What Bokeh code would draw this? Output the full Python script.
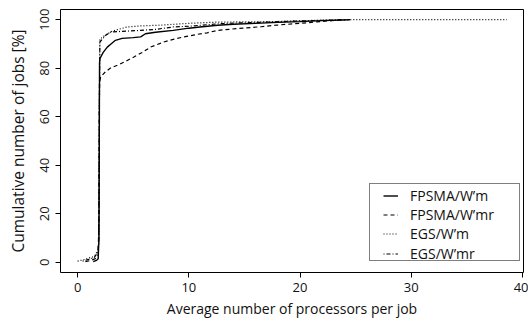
from bokeh.plotting import figure
from bokeh.models import Range1d, FixedTicker, Legend, LegendItem
from bokeh.embed import file_html
from bokeh.resources import INLINE

# ---- data ----
fpsma_m_x = [1.4, 1.7, 1.85, 1.92, 1.95, 1.97, 2.0, 2.3, 2.67, 3.0, 3.4, 4.0, 5.0, 5.67, 6.1, 7.0, 8.6, 10.0, 11.0, 12.6, 14.0, 16.0, 18.0, 20.0, 22.0, 24.5]
fpsma_m_y = [0.3, 0.8, 1.5, 10.0, 50.0, 82.0, 83.9, 86.5, 88.7, 90.0, 91.5, 92.3, 92.6, 92.9, 94.2, 94.8, 95.6, 96.5, 97.0, 97.7, 98.1, 98.5, 98.9, 99.2, 99.6, 100.0]

fpsma_mr_x = [0.7, 1.2, 1.6, 1.85, 1.92, 1.95, 1.97, 2.07, 2.5, 3.0, 3.57, 4.3, 5.06, 5.8, 6.56, 7.76, 8.6, 9.56, 10.8, 11.66, 12.6, 14.5, 16.5, 18.0, 20.0, 22.0, 24.0]
fpsma_mr_y = [0.3, 0.8, 1.5, 3.0, 20.0, 60.0, 74.0, 76.4, 78.5, 80.2, 81.2, 82.8, 84.6, 86.5, 88.7, 90.8, 91.9, 92.9, 94.0, 94.6, 95.6, 96.4, 97.1, 97.8, 98.5, 99.3, 100.0]

egs_m_x = [0.0, 0.5, 1.0, 1.35, 1.6, 1.8, 1.9, 1.95, 2.0, 2.3, 2.6, 3.0, 3.5, 4.47, 5.5, 7.2, 10.0, 12.6, 17.5, 20.0, 24.5, 38.6]
egs_m_y = [0.5, 1.0, 1.8, 2.2, 3.0, 5.0, 8.0, 60.0, 92.0, 93.0, 94.0, 95.0, 95.8, 97.0, 97.4, 97.7, 98.5, 99.0, 99.2, 99.6, 100.0, 100.0]

egs_mr_x = [0.45, 1.0, 1.5, 1.8, 1.9, 1.95, 2.0, 2.5, 2.97, 4.0, 5.67, 7.0, 8.6, 10.0, 12.6, 14.0, 17.0, 20.0, 24.0]
egs_mr_y = [0.5, 1.2, 2.0, 4.0, 8.0, 60.0, 90.8, 93.5, 94.9, 95.2, 95.6, 96.0, 97.0, 97.3, 98.3, 98.6, 99.0, 99.5, 100.0]

series_labels = ["FPSMA/W\u2019m", "FPSMA/W\u2019mr", "EGS/W\u2019m", "EGS/W\u2019mr"]
x_ticks = [0, 10, 20, 30, 40]
y_ticks = [0, 20, 40, 60, 80, 100]

FONT = "Open Sans"

p = figure(width=528, height=322, output_backend="svg", toolbar_location=None,
           x_range=Range1d(-1.54, 40.1), y_range=Range1d(-4.2, 104.2),
           min_border_left=60, min_border_right=5, min_border_top=9, min_border_bottom=50,
           background_fill_color="white", border_fill_color="white")

p.outline_line_color = "black"
p.outline_line_width = 1
p.xgrid.visible = False
p.ygrid.visible = False

r1 = p.line(fpsma_m_x, fpsma_m_y, line_color="black", line_width=1.4)
r2 = p.line(fpsma_mr_x, fpsma_mr_y, line_color="black", line_width=1.2, line_dash="4 3")
r3 = p.line(egs_m_x, egs_m_y, line_color="black", line_width=1.2, line_dash="1 2")
r4 = p.line(egs_mr_x, egs_mr_y, line_color="black", line_width=1.2, line_dash="1 2 4 2")
renderers = [r1, r2, r3, r4]

for ax in (p.xaxis[0], p.yaxis[0]):
    ax.axis_line_color = None
    ax.major_tick_out = 5
    ax.major_tick_in = 0
    ax.major_tick_line_color = "black"
    ax.minor_tick_line_color = None
    ax.major_label_text_font = FONT
    ax.major_label_text_font_size = "13px"
    ax.major_label_text_color = "#111111"
    ax.axis_label_text_font = FONT
    ax.axis_label_text_font_style = "normal"
    ax.axis_label_text_color = "#111111"

p.xaxis.axis_label_text_font_size = "14px"
p.yaxis.axis_label_text_font_size = "15.5px"
p.xaxis.ticker = FixedTicker(ticks=x_ticks)
p.yaxis.ticker = FixedTicker(ticks=y_ticks)
p.xaxis.axis_label = "Average number of processors per job"
p.yaxis.axis_label = "Cumulative number of jobs [%]"
p.yaxis.major_label_orientation = "parallel"
p.xaxis.major_label_standoff = 5
p.xaxis.axis_label_standoff = 4
p.yaxis.major_label_standoff = 6
p.yaxis.axis_label_standoff = 9

# legend frame (one invisible sample filling the box)
frame_dummy = p.line([], [], line_alpha=0)
legend_frame = Legend(items=[LegendItem(label=" ", renderers=[frame_dummy])],
                      location=(309, 11), orientation="vertical",
                      border_line_color="black", border_line_width=1,
                      background_fill_color="white", background_fill_alpha=1.0,
                      label_text_font_size="1px", label_standoff=0, label_width=0,
                      glyph_width=149, glyph_height=76, label_height=1,
                      spacing=0, padding=0, margin=0)
p.add_layout(legend_frame)

# one legend row per series, stacked inside the frame
row_offsets = [67.4, 48.1, 28.8, 9.5]
for lab, rend, yoff in zip(series_labels, renderers, row_offsets):
    lg = Legend(items=[LegendItem(label=lab, renderers=[rend])],
                location=(323, yoff), orientation="vertical",
                border_line_color=None, background_fill_alpha=0.0,
                label_text_font=FONT, label_text_font_size="14px",
                label_text_color="#111111",
                glyph_width=15, glyph_height=13, label_height=13,
                label_standoff=12, spacing=0, padding=0, margin=0)
    p.add_layout(lg)

open("out.html", "w").write(file_html(p, INLINE))
